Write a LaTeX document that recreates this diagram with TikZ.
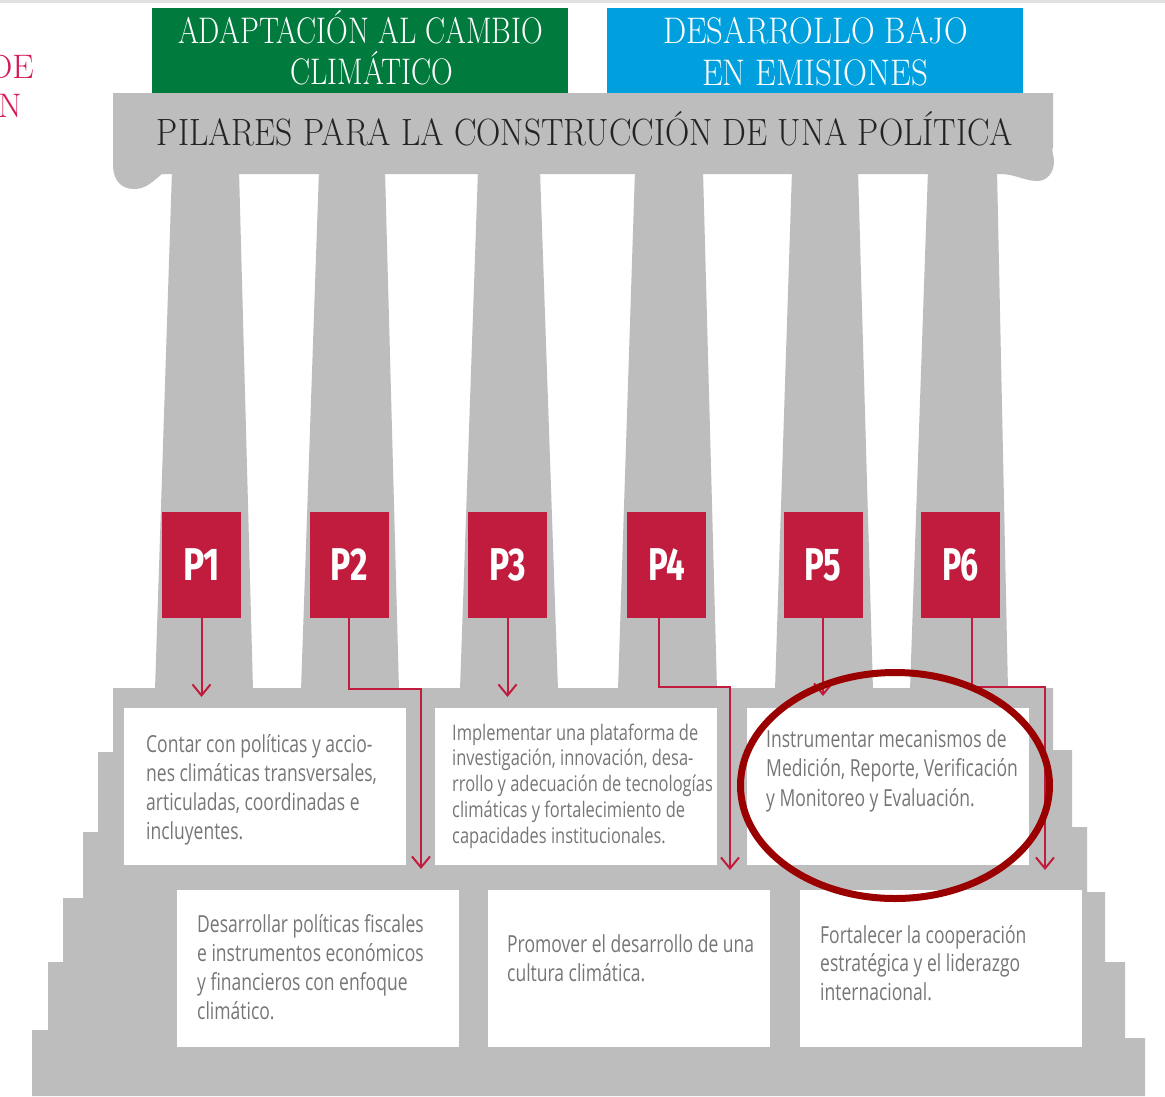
\documentclass[tikz,border=0pt]{standalone}
\usepackage{fontspec}
\usepackage{graphicx}
\usetikzlibrary{arrows.meta}
\newfontfamily\boxfont[FakeStretch=0.745]{Open Sans}
\newfontfamily\boxfontb[FakeStretch=0.765]{Open Sans}
\newfontfamily\pfont{Fira Sans}

\definecolor{pillarc}{RGB}{189,189,189}
\definecolor{grn}{RGB}{0,122,61}
\definecolor{blu}{RGB}{0,160,222}
\definecolor{crim}{RGB}{193,28,62}
\definecolor{ringc}{RGB}{155,0,0}
\definecolor{txtgray}{RGB}{118,118,118}
\definecolor{hot}{RGB}{213,26,84}
\definecolor{dark}{RGB}{35,35,35}

\newcommand\fitw[2]{\resizebox{#1pt}{\height}{#2}}
\newcommand\txtlines[2]{\vtop{\baselineskip=#1pt\lineskiplimit=-1000pt\lineskip=0pt\halign{##\hfil\cr#2\crcr}}}

\tikzset{
  stone/.style={fill=pillarc},
  banner/.style={inner sep=0pt, minimum width=416pt, minimum height=85pt},
  hdr/.style={inner sep=0pt, text=white, font=\rmfamily\fontsize{37}{40}\selectfont\addfontfeature{LetterSpace=6}},
  pil/.style={inner sep=0pt, text=dark, font=\rmfamily\fontsize{38}{40}\selectfont\addfontfeature{LetterSpace=10}},
  pbox/.style={fill=crim, inner sep=0pt, minimum width=79pt, minimum height=106pt, text=white,
    font=\pfont\bfseries\fontsize{46}{48}\selectfont},
  wbox/.style={fill=white, inner sep=0pt, anchor=north west, minimum width=282pt, minimum height=157pt},
  btxt/.style={inner sep=0pt, anchor=base west, text=txtgray, font=\boxfont\fontsize{23.5}{29}\selectfont},
  btxts/.style={inner sep=0pt, anchor=base west, text=txtgray, font=\boxfontb\fontsize{21.5}{26}\selectfont},
  conn/.style={draw=crim, line width=2pt, -{Straight Barb[length=11pt,width=18pt,line width=2pt]}},
  ring/.style={draw=ringc, line width=7pt},
  redtxt/.style={inner sep=0pt, anchor=base east, text=hot, font=\rmfamily\fontsize{34}{36}\selectfont}
}

\begin{document}
\begin{tikzpicture}[x=1pt,y=-1pt]
\useasboundingbox (0,0) rectangle (1165,1096);
\clip (0,0) rectangle (1165,1096);
\fill[white] (0,0) rectangle (1165,1096);
\fill[black!12] (0,0) rectangle (1165,2.5);

% partial red text at left
\node[redtxt] (rt1) at (34,78) {DE};
\node[redtxt] (rt2) at (22,117) {N};

% banners
\node[banner, fill=grn] (adapt) at (360,50.5) {};
\node[banner, fill=blu] (desa) at (815,50.5) {};
\node[hdr, anchor=base] (adaptA) at (360.5,43.5) {\fitw{365}{ADAPTACIÓN AL CAMBIO}};
\node[hdr, anchor=base] (adaptB) at (372,84.5) {\fitw{163}{CLIMÁTICO}};
\node[hdr, anchor=base] (desaA) at (815.5,43.5) {\fitw{305}{DESARROLLO BAJO}};
\node[hdr, anchor=base] (desaB) at (815,85) {\fitw{226}{EN EMISIONES}};

% capital
\fill[stone] (113,93) -- (1053,93) -- (1053,147)
  .. controls (1051,151) and (1054,155) .. (1054,161)
  .. controls (1054,173) and (1047,181) .. (1037,181)
  .. controls (1025,181) and (1015,174) .. (1000,174)
  -- (162,174)
  .. controls (152,182) and (146,189) .. (134,189)
  .. controls (121,189) and (113,180) .. (113,165) -- cycle;
\node[pil, anchor=base] (pilares) at (585,145) {\fitw{856}{PILARES PARA LA CONSTRUCCIÓN DE UNA POLÍTICA}};

% columns
\fill[stone] (172,170) -- (239,170) -- (253,690) -- (155,690) -- cycle;
\fill[stone] (319,170) -- (385,170) -- (399,690) -- (301,690) -- cycle;
\fill[stone] (478,170) -- (540,170) -- (558,690) -- (460,690) -- cycle;
\fill[stone] (635,170) -- (703,170) -- (717,690) -- (618,690) -- cycle;
\fill[stone] (792,170) -- (858,170) -- (873,690) -- (775,690) -- cycle;
\fill[stone] (928,170) -- (997,170) -- (1008,690) -- (910,690) -- cycle;

% stepped base
\fill[stone] (113,688) -- (1053,688) -- (1053,750) -- (1072,750) -- (1072,827) -- (1087,827)
  -- (1087,892) -- (1105,892) -- (1105,962) -- (1125,962) -- (1125,1038) -- (1145,1038)
  -- (1145,1096) -- (32,1096) -- (32,1030) -- (48,1030) -- (48,962) -- (63,962)
  -- (63,898) -- (83,898) -- (83,832) -- (98,832) -- (98,752) -- (113,752) -- cycle;

% white boxes
\node[wbox] (ba) at (124,708) {};
\node[wbox] (bb) at (435,708) {};
\node[wbox] (bc) at (747,708) {};
\node[wbox] (bd) at (177,890) {};
\node[wbox] (be) at (488,890) {};
\node[wbox] (bf) at (800,890) {};

% box texts
\node[btxt] (ta) at (146,752) {\txtlines{29}{Contar con políticas y accio-\cr nes climáticas transversales,\cr articuladas, coordinadas e\cr incluyentes.}};
\node[btxts] (tb) at (452,740) {\txtlines{25.75}{Implementar una plataforma de\cr investigación, innovación, desa-\cr rrollo y adecuación de tecnologías\cr climáticas y fortalecimiento de\cr capacidades institucionales.}};
\node[btxt] (tc) at (766,747) {\txtlines{29.5}{Instrumentar mecanismos de\cr Medición, Reporte, Verificación\cr y Monitoreo y Evaluación.}};
\node[btxt] (td) at (197,932) {\txtlines{29}{Desarrollar políticas fiscales\cr e instrumentos económicos\cr y financieros con enfoque\cr climático.}};
\node[btxt] (te) at (507,952) {\txtlines{29}{Promover el desarrollo de una\cr cultura climática.}};
\node[btxt] (tf) at (820,943) {\txtlines{28.5}{Fortalecer la cooperación\cr estratégica y el liderazgo\cr internacional.}};

% P boxes
\node[pbox] (p1) at (201.5,565) {\fitw{37}{P1}};
\node[pbox] (p2) at (349,565) {\fitw{37}{P2}};
\node[pbox] (p3) at (507.5,565) {\fitw{37}{P3}};
\node[pbox] (p4) at (666.5,565) {\fitw{37}{P4}};
\node[pbox] (p5) at (823,565) {\fitw{37}{P5}};
\node[pbox] (p6) at (960.5,565) {\fitw{37}{P6}};

% connectors
\coordinate (t1) at (201.5,697);
\coordinate (b2) at (421,689);
\coordinate (t2) at (421,869);
\coordinate (t3) at (507.5,697);
\coordinate (b4) at (730,687);
\coordinate (t4) at (730,870);
\coordinate (t5) at (823,696);
\coordinate (b6) at (1045,687);
\coordinate (t6) at (1045,870);
\draw[conn] (p1.south) -- (t1);
\draw[conn] (p2.south) |- (b2) -- (t2);
\draw[conn] (p3.south) -- (t3);
\draw[conn] ([xshift=-7.5pt]p4.south) |- (b4) -- (t4);
\draw[conn] (p5.south) -- (t5);
\draw[conn] ([xshift=11.5pt]p6.south) |- (b6) -- (t6);

% highlight ring
\draw[ring] (895,785.5) ellipse [x radius=154.5pt, y radius=113pt];
\end{tikzpicture}
\end{document}
